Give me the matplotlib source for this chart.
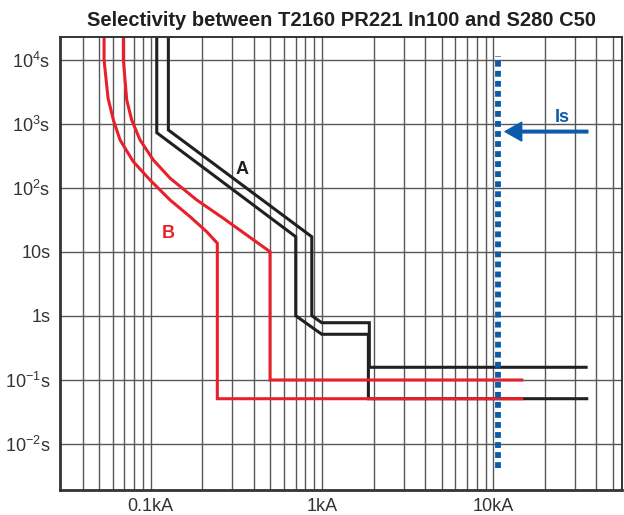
import matplotlib
matplotlib.use('Agg')
import matplotlib.pyplot as plt

# curve A (T2160 PR221 In100) - band of two lines, current in kA, time in s
a_left_I = [0.1084, 0.1084, 0.702, 0.702, 0.996, 1.864, 1.864, 35.1]
a_left_t = [30000, 731, 17.3, 1.01, 0.518, 0.518, 0.051, 0.051]
a_right_I = [0.1267, 0.1267, 0.871, 0.871, 0.996, 1.888, 1.888, 34.8]
a_right_t = [30000, 805, 17.3, 1.01, 0.785, 0.785, 0.158, 0.158]

# curve B (S280 C50)
b_left_I = [0.0534, 0.0534, 0.0563, 0.0605, 0.0662, 0.0791, 0.0991,
            0.1297, 0.1696, 0.2123, 0.2447, 0.2447, 14.66]
b_left_t = [30000, 10000, 2548, 1155, 562, 258, 133,
            64.9, 35.6, 20.7, 13.7, 0.051, 0.051]
b_right_I = [0.0692, 0.0692, 0.0724, 0.0774, 0.0866, 0.1035, 0.1297, 0.1856,
             0.2653, 0.3634, 0.497, 0.497, 14.66]
b_right_t = [30000, 10000, 2371, 1155, 562, 274, 142, 64.9,
             33.6, 18.4, 10.1, 0.1, 0.1]

# selectivity limit Is
is_current = 10.6
is_t_range = [0.0042, 11500]

x_major = [0.1, 1, 10]
x_major_labels = ['0.1kA', '1kA', '10kA']
x_minor = [0.04, 0.05, 0.06, 0.07, 0.08, 0.09,
           0.2, 0.3, 0.4, 0.5, 0.6, 0.7, 0.8, 0.9,
           2, 3, 4, 5, 6, 7, 8, 9, 20, 30, 40, 50]
y_major = [0.01, 0.1, 1, 10, 100, 1000, 10000]
y_major_labels = [r'$\mathregular{10^{-2}s}$', r'$\mathregular{10^{-1}s}$', '1s', '10s',
                  r'$\mathregular{10^{2}s}$', r'$\mathregular{10^{3}s}$', r'$\mathregular{10^{4}s}$']

BLACK = '#231f20'
RED = '#e8202a'
BLUE = '#0a5cab'

plt.rcParams['font.family'] = ['Liberation Sans', 'DejaVu Sans']
plt.rcParams['mathtext.fontset'] = 'custom'
plt.rcParams['mathtext.rm'] = 'Liberation Sans'

fig = plt.figure(figsize=(6.24, 5.15), dpi=100)
ax = fig.add_axes([0.0962, 0.0485, 0.9011, 0.8797])
ax.set_xscale('log')
ax.set_yscale('log')
ax.set_xlim(0.02954, 56.6)
ax.set_ylim(0.00191, 22860)

ax.set_xticks(x_major)
ax.set_xticklabels(x_major_labels)
ax.set_xticks(x_minor, minor=True)
ax.set_xticklabels([], minor=True)
ax.set_yticks(y_major)
ax.set_yticklabels(y_major_labels)
ax.yaxis.set_minor_locator(matplotlib.ticker.NullLocator())
ax.tick_params(which='both', length=0, labelsize=13, colors='#333333')
ax.tick_params(axis='y', pad=7)
ax.tick_params(axis='x', pad=6)

ax.grid(True, which='both', axis='x', color='#575757', lw=1.0)
ax.grid(True, which='major', axis='y', color='#575757', lw=1.0)
ax.set_axisbelow(True)
for s in ax.spines.values():
    s.set_color('#333333')
    s.set_linewidth(1.4)
ax.spines['left'].set_linewidth(2)
ax.spines['bottom'].set_linewidth(2)

ax.plot(a_left_I, a_left_t, color=BLACK, lw=2.2, solid_joinstyle='miter')
ax.plot(a_right_I, a_right_t, color=BLACK, lw=2.2, solid_joinstyle='miter')
ax.plot(b_left_I, b_left_t, color=RED, lw=2.2, solid_joinstyle='miter')
ax.plot(b_right_I, b_right_t, color=RED, lw=2.2, solid_joinstyle='miter')

ax.plot([is_current, is_current], is_t_range, color=BLUE, lw=4.2,
        ls=(0, (1, 0.72)), dash_capstyle='butt')
ax.annotate('', xy=(11.7, 760), xytext=(35.6, 760),
            arrowprops=dict(color=BLUE, width=1.9, headwidth=13.5,
                            headlength=12, shrink=0))
ax.text(25.1, 1274, 'Is', color=BLUE, fontsize=13, fontweight='bold',
        ha='center', va='center')
ax.text(0.3398, 191, 'A', color=BLACK, fontsize=13, fontweight='bold',
        ha='center', va='center')
ax.text(0.1267, 19.6, 'B', color=RED, fontsize=13, fontweight='bold',
        ha='center', va='center')

ax.set_title('Selectivity between T2160 PR221 In100 and S280 C50',
             fontsize=14.5, fontweight='bold', color=BLACK, pad=8)

fig.savefig('out.png', dpi=100)
